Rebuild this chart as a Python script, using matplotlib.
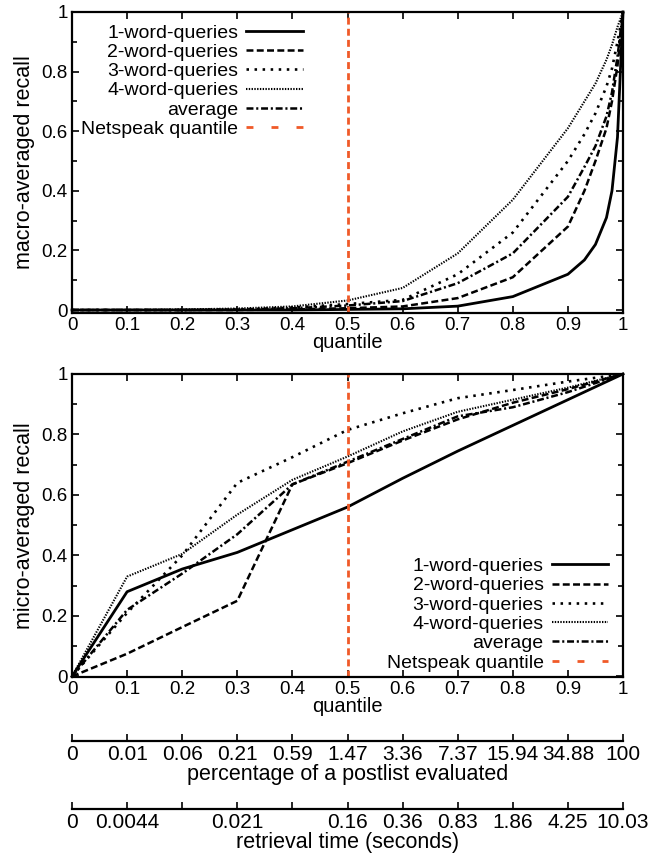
import matplotlib
matplotlib.use("Agg")
import matplotlib.pyplot as plt
from matplotlib.lines import Line2D
import numpy as np

plt.rcParams['font.family'] = ['Liberation Sans', 'DejaVu Sans']
plt.rcParams['lines.scale_dashes'] = False

# ---------------- data ----------------
series_labels = ["1-word-queries", "2-word-queries", "3-word-queries", "4-word-queries", "average"]
netspeak_label = "Netspeak quantile"
netspeak_q = 0.5

# macro-averaged recall (top panel)
macro_q = [0, 0.1, 0.2, 0.3, 0.4, 0.5, 0.6, 0.7, 0.8, 0.9, 0.93, 0.95, 0.97, 0.98, 0.99, 1.0]
macro_1w = [0, 0, 0, 0, 0, 0.002, 0.004, 0.013, 0.045, 0.12, 0.168, 0.22, 0.31, 0.40, 0.58, 1.0]
macro_2w = [0, 0, 0, 0, 0.002, 0.006, 0.012, 0.04, 0.11, 0.28, 0.40, 0.50, 0.61, 0.70, 0.82, 1.0]
macro_3w = [0, 0, 0, 0.002, 0.008, 0.02, 0.034, 0.12, 0.26, 0.50, 0.59, 0.66, 0.75, 0.81, 0.90, 1.0]
macro_4w = [0, 0, 0.002, 0.005, 0.012, 0.032, 0.074, 0.19, 0.37, 0.61, 0.70, 0.76, 0.84, 0.89, 0.95, 1.0]
macro_avg = [0, 0, 0, 0.001, 0.006, 0.015, 0.03, 0.09, 0.19, 0.38, 0.48, 0.55, 0.65, 0.73, 0.85, 1.0]

# micro-averaged recall (bottom panel)
micro_q = [0, 0.1, 0.2, 0.3, 0.4, 0.5, 0.6, 0.7, 0.8, 0.9, 1.0]
micro_1w = [0, 0.28, 0.355, 0.41, 0.485, 0.56, 0.655, 0.745, 0.83, 0.915, 1.0]
micro_2w = [0, 0.075, 0.163, 0.25, 0.635, 0.705, 0.78, 0.85, 0.905, 0.95, 1.0]
micro_3w = [0, 0.21, 0.40, 0.64, 0.725, 0.815, 0.87, 0.92, 0.947, 0.975, 1.0]
micro_4w = [0, 0.33, 0.405, 0.535, 0.65, 0.727, 0.81, 0.875, 0.915, 0.955, 1.0]
micro_avg = [0, 0.22, 0.34, 0.47, 0.635, 0.71, 0.785, 0.86, 0.89, 0.94, 1.0]

quantile_ticks = [0, 0.1, 0.2, 0.3, 0.4, 0.5, 0.6, 0.7, 0.8, 0.9, 1.0]
quantile_ticklabels = ["0", "0.1", "0.2", "0.3", "0.4", "0.5", "0.6", "0.7", "0.8", "0.9", "1"]
recall_ticks = [0, 0.2, 0.4, 0.6, 0.8, 1.0]
recall_ticklabels = ["0", "0.2", "0.4", "0.6", "0.8", "1"]

percent_ticklabels = ["0", "0.01", "0.06", "0.21", "0.59", "1.47", "3.36", "7.37", "15.94", "34.88", "100"]
time_ticklabels = ["0", "0.0044", "", "0.021", "", "0.16", "0.36", "0.83", "1.86", "4.25", "10.03"]

# ---------------- styles ----------------
FS_TICK = 13.5
FS_LEG = 14
FS_XLAB = 14.5
FS_YLAB = 15.5
FS_EXTRA_TICK = 15
FS_EXTRA_LAB = 15.5
orange = "#f05a28"
styles = [
    dict(color="black", lw=2.0, linestyle="-"),
    dict(color="black", lw=1.8, linestyle=(0, (5.0, 2.4))),
    dict(color="black", lw=1.9, linestyle=(0, (1.8, 4.0))),
    dict(color="black", lw=1.5, linestyle=(0, (1.0, 1.0))),
    dict(color="black", lw=1.8, linestyle=(0, (5.0, 2.0, 1.5, 2.0))),
]

fig = plt.figure(figsize=(6.68, 8.61), dpi=100)
W, H = 668.0, 861.0
left = 72 / W
width = (623 - 72) / W
ax1 = fig.add_axes([left, 1 - 313 / H, width, (313 - 12) / H])
ax2 = fig.add_axes([left, 1 - 677 / H, width, (677 - 374) / H])


def style_axes(ax, ylim):
    ax.set_xlim(0, 1)
    ax.set_ylim(*ylim)
    ax.set_xticks(quantile_ticks)
    ax.set_xticklabels(quantile_ticklabels)
    ax.set_yticks(recall_ticks)
    ax.set_yticklabels(recall_ticklabels)
    ax.set_yticks(np.arange(0.1, 1.0, 0.2), minor=True)
    ax.tick_params(which="both", direction="in", top=True, right=True, labelsize=FS_TICK, width=1.2)
    ax.tick_params(which="major", length=5, pad=3)
    ax.tick_params(which="minor", length=3.5)
    for s in ax.spines.values():
        s.set_linewidth(1.6)
    ax.set_xlabel("quantile", fontsize=FS_XLAB, labelpad=-1)


macro_series = [macro_1w, macro_2w, macro_3w, macro_4w, macro_avg]
micro_series = [micro_1w, micro_2w, micro_3w, micro_4w, micro_avg]

for ys, st, lab in zip(macro_series, styles, series_labels):
    ax1.plot(macro_q, ys, label=lab, **st, clip_on=False)
ax1.axvline(netspeak_q, color=orange, lw=2.0, linestyle=(0, (5.0, 3.0)))
for ys, st, lab in zip(micro_series, styles, series_labels):
    ax2.plot(micro_q, ys, label=lab, **st, clip_on=False)
ax2.axvline(netspeak_q, color=orange, lw=2.0, linestyle=(0, (5.0, 3.0)))

style_axes(ax1, (-0.01, 1.0))
style_axes(ax2, (-0.002, 1.0))
ax1.set_ylabel("macro-averaged recall", fontsize=FS_YLAB, labelpad=5)
ax2.set_ylabel("micro-averaged recall", fontsize=FS_YLAB, labelpad=5)

handles = [Line2D([], [], **st) for st in styles]
handles.append(Line2D([], [], color=orange, lw=2.0, linestyle=(0, (5.0, 13.0))))
labels = series_labels + [netspeak_label]

leg_kw = dict(frameon=False, markerfirst=False, fontsize=FS_LEG, handlelength=2.9,
              handletextpad=0.42, labelspacing=0.085, borderpad=0.0, borderaxespad=0.0)
ax1.legend(handles, labels, loc="upper right", bbox_to_anchor=(0.419, 0.96), **leg_kw)
ax2.legend(handles, labels, loc="lower right", bbox_to_anchor=(0.973, 0.018), **leg_kw)


def extra_axis(ypix, ticklabels, xlabel):
    ax = fig.add_axes([left, 1 - ypix / H, width, 0.0001])
    ax.set_xlim(0, 1)
    ax.set_ylim(0, 1)
    for s in ["left", "right", "top"]:
        ax.spines[s].set_visible(False)
    ax.spines["bottom"].set_linewidth(1.6)
    ax.set_yticks([])
    ax.set_xticks(quantile_ticks)
    ax.set_xticklabels(ticklabels)
    ax.tick_params(axis="x", direction="in", length=5, width=1.2, labelsize=FS_EXTRA_TICK, pad=3)
    ax.set_xlabel(xlabel, fontsize=FS_EXTRA_LAB, labelpad=0)
    ax.patch.set_visible(False)
    return ax


extra_axis(741, percent_ticklabels, "percentage of a postlist evaluated")
extra_axis(809, time_ticklabels, "retrieval time (seconds)")

fig.savefig("out.png", dpi=100)
